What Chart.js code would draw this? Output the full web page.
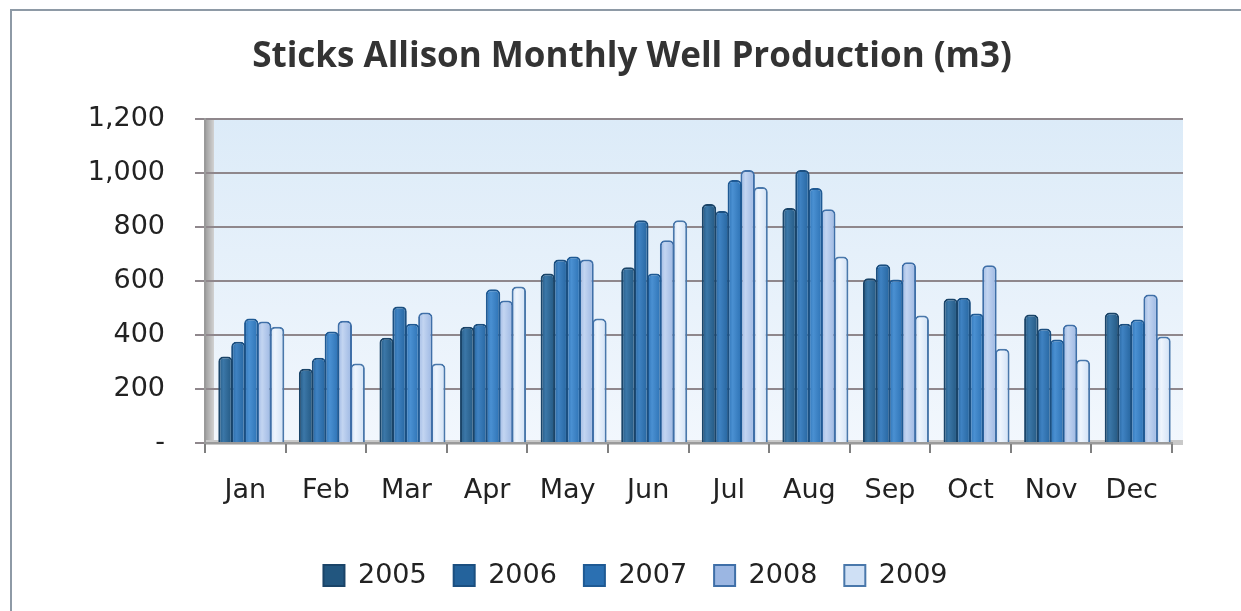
<!DOCTYPE html>
<html>
<head>
<meta charset="utf-8">
<title>Sticks Allison Monthly Well Production (m3)</title>
<script src="https://cdn.jsdelivr.net/npm/chart.js@4.4.1/dist/chart.umd.min.js"></script>
<style>
  html, body { margin: 0; padding: 0; background: #fff; }
  #wrap { width: 1241px; height: 611px; }
</style>
</head>
<body>
<div id="wrap"><canvas id="chart" width="1241" height="611"></canvas></div>
<script>
// datos (m3 por mes)
const months = ["Jan", "Feb", "Mar", "Apr", "May", "Jun", "Jul", "Aug", "Sep", "Oct", "Nov", "Dec"];
const years = ["2005", "2006", "2007", "2008", "2009"];

const prod2005 = [320, 275, 390, 431, 628, 651, 885, 870, 610, 535, 476, 483];
const prod2006 = [375, 316, 506, 442, 680, 825, 859, 1011, 662, 538, 424, 442];
const prod2007 = [461, 413, 442, 569, 691, 628, 974, 944, 606, 480, 383, 457];
const prod2008 = [450, 453, 483, 528, 680, 751, 1011, 866, 669, 658, 439, 550];
const prod2009 = [431, 294, 294, 580, 461, 825, 948, 691, 472, 349, 309, 394];

const yTicks = [0, 200, 400, 600, 800, 1000, 1200];

const chartTitle = "Sticks Allison Monthly Well Production (m3)";

const fills = ["#22567f", "#24639c", "#2b70b2", "#9bb6e2", "#cfe0f5"];
const lights = ["#3b77a8", "#3f82c2", "#4a90d2", "#c3d5f1", "#eef5fd"];
const edges = ["#1a4468", "#1b4f80", "#1f5a94", "#3f6fa8", "#4a78ab"];

const font = "'DejaVu Sans', sans-serif";
const depth = 6; // desplazamiento "3D" de las barras hacia el fondo

// fondo, pared lateral y piso (imitando el 3D de Excel) + título
const backdrop = {
  id: "backdrop",
  beforeDraw(chart) {
    const { ctx, chartArea: a, width, height } = chart;
    const y = chart.scales.y;
    ctx.save();
    ctx.fillStyle = "#fff";
    ctx.fillRect(0, 0, width, height);
    ctx.strokeStyle = "#8e9aa6";
    ctx.lineWidth = 2;
    ctx.beginPath();
    ctx.moveTo(11, height);
    ctx.lineTo(11, 10);
    ctx.lineTo(width, 10);
    ctx.stroke();

    const g = ctx.createLinearGradient(0, a.top, 0, a.bottom);
    g.addColorStop(0, "#dcebf8");
    g.addColorStop(1, "#f2f7fd");
    ctx.fillStyle = g;
    ctx.fillRect(a.left, a.top, a.right - a.left + 11, a.bottom - a.top);

    // prolongación de la cuadrícula hacia la pared del fondo
    ctx.strokeStyle = "#8f878c";
    ctx.lineWidth = 2;
    yTicks.slice(1).forEach((v) => {
      const py = y.getPixelForValue(v);
      ctx.beginPath();
      ctx.moveTo(a.right - 2, py);
      ctx.lineTo(a.right + 11, py);
      ctx.stroke();
    });

    const w = ctx.createLinearGradient(a.left, 0, a.left + 9, 0);
    w.addColorStop(0, "#9c9c9c");
    w.addColorStop(1, "#d2d2d2");
    ctx.fillStyle = w;
    ctx.fillRect(a.left, a.top, 9, a.bottom - a.top);

    ctx.fillStyle = "#c9c9c9";
    ctx.fillRect(a.left, a.bottom - 3, a.right - a.left + 11, 5);
    ctx.restore();
  },
  beforeDatasetsDraw(chart) {
    chart.ctx.save();
    chart.ctx.translate(depth, 0);
  },
  afterDatasetsDraw(chart) {
    chart.ctx.restore();
  },
  afterDraw(chart) {
    const { ctx } = chart;
    ctx.save();
    ctx.fillStyle = "#333";
    ctx.font = "bold 35px 'Open Sans', sans-serif";
    ctx.textAlign = "center";
    ctx.textBaseline = "middle";
    ctx.fillText(chartTitle, 632, 57);
    ctx.restore();
  }
};

// degradado horizontal por barra para el efecto cilíndrico
function barFill(i) {
  return (c) => {
    const el = c.element;
    if (!el || !isFinite(el.x) || !el.width) return fills[i];
    const x0 = el.x - el.width / 2, x1 = el.x + el.width / 2;
    const g = c.chart.ctx.createLinearGradient(x0, 0, x1, 0);
    g.addColorStop(0, fills[i]);
    g.addColorStop(0.35, lights[i]);
    g.addColorStop(1, fills[i]);
    return g;
  };
}

const datasets = [prod2005, prod2006, prod2007, prod2008, prod2009].map((vals, i) => ({
  label: years[i],
  data: vals,
  backgroundColor: barFill(i),
  borderColor: edges[i],
  borderWidth: 2,
  borderSkipped: "bottom",
  borderRadius: { topLeft: 5, topRight: 5 },
  categoryPercentage: 0.8,
  barPercentage: 1.12
}));

const chart = new Chart(document.getElementById("chart"), {
  type: "bar",
  data: { labels: months, datasets },
  plugins: [backdrop],
  options: {
    responsive: false,
    animation: false,
    layout: { padding: { top: 119, right: 0, left: 30, bottom: 12 } },
    plugins: {
      title: { display: false },
      legend: {
        position: "bottom",
        labels: {
          color: "#222",
          font: { family: font, size: 27 },
          boxWidth: 21,
          boxHeight: 21,
          padding: 27,
          generateLabels: (ch) => ch.data.datasets.map((d, i) => ({
            text: d.label,
            fillStyle: fills[i],
            strokeStyle: edges[i],
            lineWidth: 2,
            fontColor: "#222",
            datasetIndex: i
          }))
        }
      },
      tooltip: { enabled: false }
    },
    scales: {
      x: {
        afterFit: (s) => { s.height = 92; },
        border: { color: "#9a9a9a", width: 2 },
        grid: { drawOnChartArea: false, color: "#7f7f7f", tickLength: 10, lineWidth: 2 },
        ticks: { color: "#222", font: { family: font, size: 27 }, padding: 22 }
      },
      y: {
        min: 0,
        max: 1200,
        afterFit: (s) => { s.width = 175; },
        afterBuildTicks: (s) => { s.ticks = yTicks.map((v) => ({ value: v })); },
        border: { color: "#9a9a9a", width: 2 },
        grid: { color: "#8f878c", lineWidth: 2, tickLength: 10 },
        ticks: {
          color: "#222",
          font: { family: font, size: 27 },
          padding: 30,
          callback: (v) => (v === 0 ? "-" : Number(v).toLocaleString("en-US"))
        }
      },
      // eje vacío a la derecha: sólo reserva el margen de la pared del fondo
      side: {
        type: "linear",
        position: "right",
        display: true,
        afterFit: (s) => { s.width = 69; },
        grid: { display: false },
        border: { display: false },
        ticks: { display: false }
      }
    }
  }
});
// segunda pasada: ya existen las posiciones de las barras para los degradados
chart.update();
</script>
</body>
</html>
